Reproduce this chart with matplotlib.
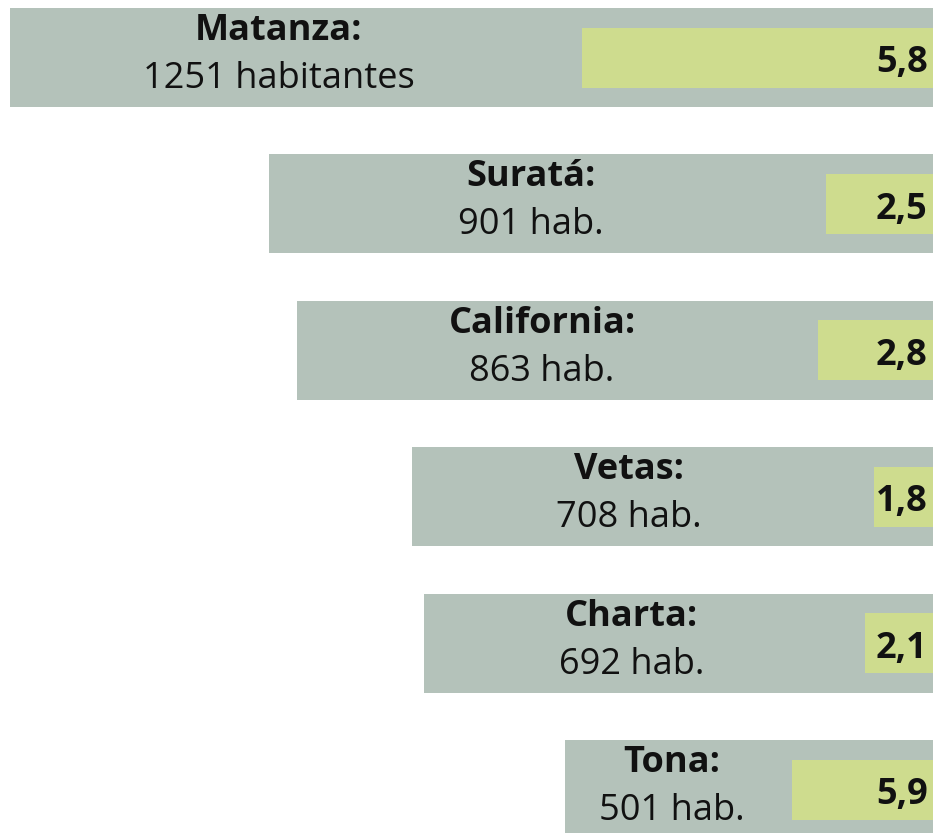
"""Bar chart of inhabitants per municipality, with the rate drawn inside each bar."""
import matplotlib
matplotlib.use("Agg")
import matplotlib.pyplot as plt

# data
municipios = ["Matanza", "Suratá", "California", "Vetas", "Charta", "Tona"]
habitantes = [1251, 901, 863, 708, 692, 501]
tasa = [5.8, 2.5, 2.8, 1.8, 2.1, 5.9]
hab_labels = ["1251 habitantes", "901 hab.", "863 hab.", "708 hab.", "692 hab.", "501 hab."]

# inner bar drawn as rate share of the population, stretched to be visible
inner_scale = 6.6

grey = "#B4C2BA"
yellow = "#CEDC8E"

plt.rcParams["font.family"] = ["Open Sans", "DejaVu Sans"]

fig = plt.figure(figsize=(9.33, 8.33), dpi=100)
ax = fig.add_axes([0, 0, 1, 1])

ypos = list(range(len(municipios)))
inner = [h * t / 100 * inner_scale for h, t in zip(habitantes, tasa)]

# bars grow to the left from a common right edge at 0
ax.barh(ypos, habitantes, left=[-h for h in habitantes], height=0.676, color=grey)
ax.barh(ypos, inner, left=[-w for w in inner], height=0.41, color=yellow)

for y, name, hl, h, w, t in zip(ypos, municipios, hab_labels, habitantes, inner, tasa):
    # labels sit a bit left of the middle of the free grey part
    xc = -h + 0.47 * (h - w)
    ax.annotate(name + ":", xy=(xc, y), xytext=(0, 12.6), textcoords="offset points",
                ha="center", va="baseline", fontsize=26, fontweight="bold", color="#111111")
    ax.annotate(hl, xy=(xc, y), xytext=(0, -22), textcoords="offset points",
                ha="center", va="baseline", fontsize=26, color="#111111")
    ax.annotate(f"{t:.1f}".replace(".", ","), xy=(0, y), xytext=(-6, -10.5),
                textcoords="offset points", ha="right", va="baseline",
                fontsize=26, fontweight="bold", color="#111111",
                annotation_clip=False)

ax.set_xlim(-1265, -4)
ax.set_ylim(5.297, -0.393)
ax.axis("off")

fig.savefig("out.png", dpi=100)
